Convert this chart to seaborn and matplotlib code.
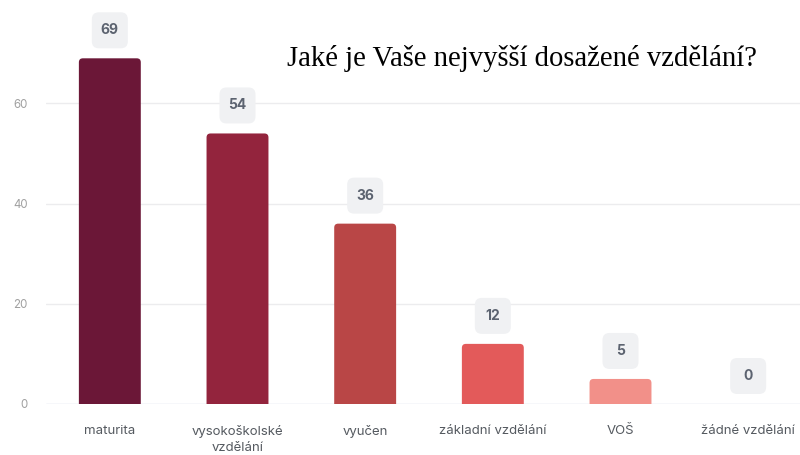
import matplotlib
matplotlib.use("Agg")
import matplotlib.pyplot as plt
import seaborn as sns
import pandas as pd
from matplotlib.patches import FancyBboxPatch
from matplotlib.transforms import ScaledTranslation

# Survey answers and counts
categories = ["maturita", "vysokoškolské\nvzdělání", "vyučen",
              "základní vzdělání", "VOŠ", "žádné vzdělání"]
counts = [69, 54, 36, 12, 5, 0]
bar_colors = ["#6b1737", "#93243d", "#b94646", "#e35a5a", "#f29089", "#f6b5ad"]
y_ticks = [0, 20, 40, 60]
title = "Jaké je Vaše nejvyšší dosažené vzdělání?"

df = pd.DataFrame({"kategorie": categories, "počet": counts})

sns.set_theme(style="white")
plt.rcParams["font.family"] = ["Inter", "DejaVu Sans"]

fig = plt.figure(figsize=(8.0, 4.55), dpi=100)
ax = fig.add_axes([46 / 800, 51 / 455, 754 / 800, 404 / 455])

sns.barplot(data=df, x="kategorie", y="počet", hue="kategorie",
            palette=bar_colors, legend=False, width=0.485,
            saturation=1, ax=ax)

ax.set_ylim(0, 404 / 5.01)
ax.set_xlim(-0.5, 5.406)
ax.set_yticks(y_ticks)
ax.set_xlabel("")
ax.set_ylabel("")
for s in ax.spines.values():
    s.set_visible(False)

# horizontal gridlines
for t in y_ticks:
    ax.axhline(t, color="#d2d9ea" if t == 0 else "#ececee",
               lw=1.0, zorder=0)

ax.tick_params(axis="x", length=0, pad=15, labelsize=9.5, labelcolor="#555a60")
ax.tick_params(axis="y", length=0, pad=13, labelsize=8.3, labelcolor="#a0a0a0")
for lbl in ax.get_xticklabels():
    lbl.set_linespacing(1.45)

fig.canvas.draw()
# data units per pixel, used to round the bar tops evenly
x0, y0 = ax.transData.transform((0, 0))
x1, y1 = ax.transData.transform((1, 1))
x_per_px = 1 / (x1 - x0)
y_per_px = 1 / (y1 - y0)
radius_px = 4

# value badges above the bars, rounded bar tops
box = 0.36  # inches
bars = list(ax.patches)
for p, v in zip(bars, counts):
    cx = p.get_x() + p.get_width() / 2
    top = p.get_height()
    if top > 0:
        ext = 10 * y_per_px
        rounded = FancyBboxPatch(
            (p.get_x(), -ext), p.get_width(), top + ext,
            boxstyle=f"round,pad=0,rounding_size={radius_px * x_per_px}",
            mutation_aspect=y_per_px / x_per_px,
            facecolor=p.get_facecolor(), edgecolor="none", zorder=2)
        ax.add_patch(rounded)
    p.set_visible(False)

    tr = fig.dpi_scale_trans + ScaledTranslation(cx, top, ax.transData)
    badge = FancyBboxPatch((-box / 2, 0.28 - box / 2), box, box,
                           boxstyle="round,pad=0,rounding_size=0.07",
                           transform=tr, facecolor="#f0f1f3",
                           edgecolor="none", clip_on=False, zorder=3)
    ax.add_patch(badge)
    ax.annotate(str(v), xy=(cx, top), xytext=(0, 0.28 * 72),
                textcoords="offset points", ha="center", va="center",
                fontsize=10, fontweight="bold", color="#5c6370", zorder=4)

fig.text(522 / 800, 1 - 59 / 455, title, ha="center", va="center",
         fontsize=20.6, family="Liberation Serif", color="#000000")

fig.savefig("out.png", dpi=100)
